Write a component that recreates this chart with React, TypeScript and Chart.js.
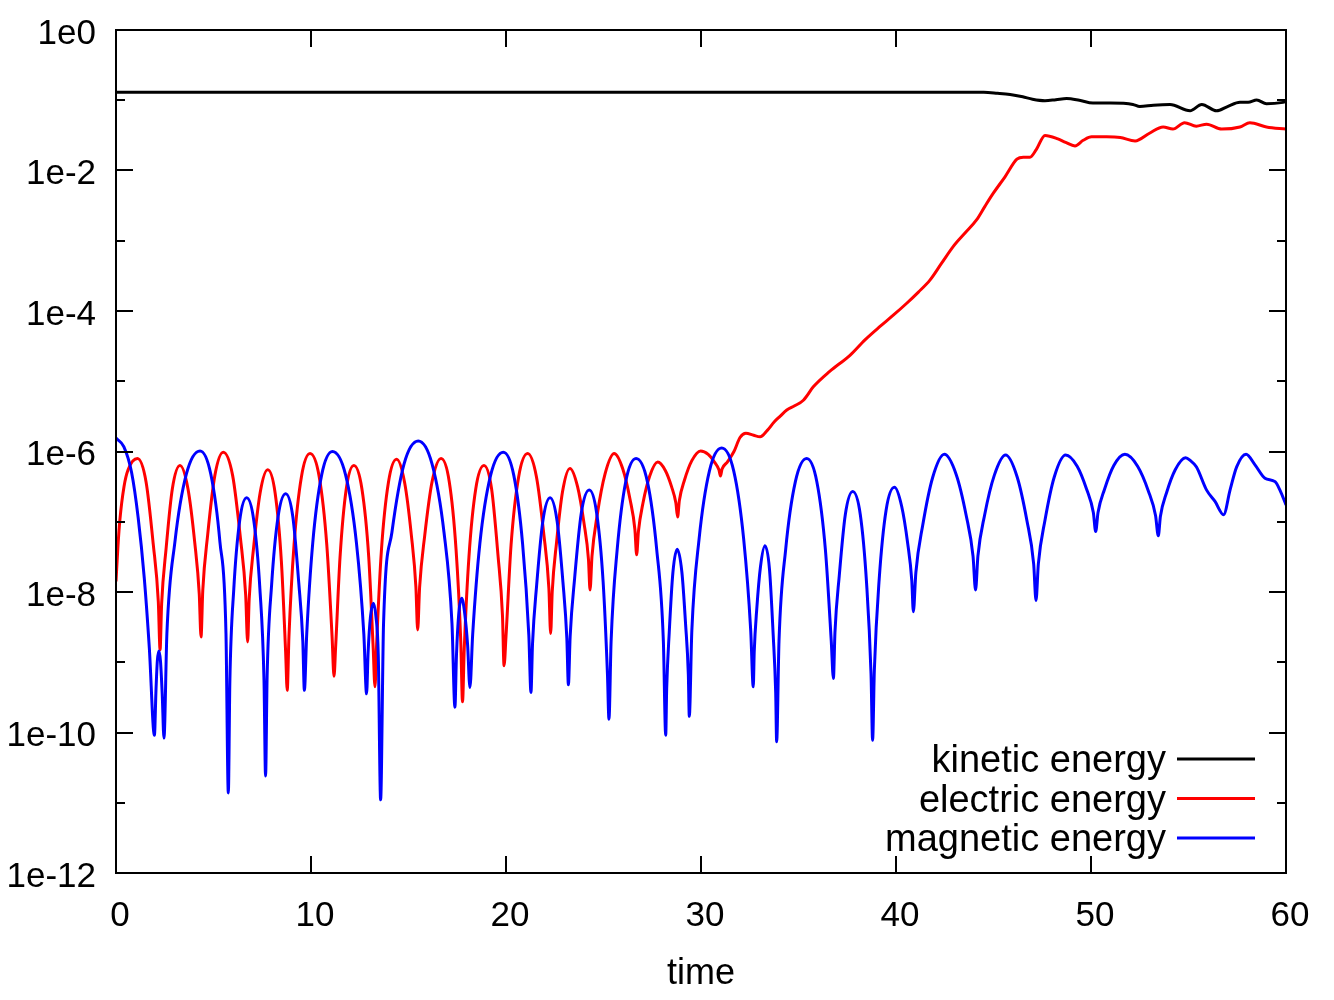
import { useEffect, useRef } from 'react';
import { Chart, registerables } from 'chart.js';

Chart.register(...registerables);

const FONT = "'Liberation Sans', Arial, Helvetica, sans-serif";

const xTicks = [0, 10, 20, 30, 40, 50, 60];
const yTickValues = [1e-12, 1e-10, 1e-8, 1e-6, 1e-4, 1e-2, 1];
const yTickLabels = ['1e-12', '1e-10', '1e-8', '1e-6', '1e-4', '1e-2', '1e0'];
const yMinorValues = [1e-11, 1e-9, 1e-7, 1e-5, 1e-3, 1e-1];
const xTitle = 'time';
const seriesNames = ['kinetic energy', 'electric energy', 'magnetic energy'];
const seriesColors = ['#000000', '#ff0000', '#0000ff'];

const kinetic: [number, number][] = [
  [0, 0.13], [44.5, 0.13], [45.2, 0.126], [45.85, 0.121], [46.5, 0.112], [47.0, 0.1035],
  [47.64, 0.0986], [48.2, 0.102], [48.75, 0.106], [49.4, 0.1], [50.1, 0.0912], [51.0, 0.0912],
  [52.15, 0.0871], [52.5, 0.0813], [53.2, 0.0851], [54.05, 0.0871], [55.08, 0.0708], [55.68, 0.0871],
  [56.44, 0.0708], [57.0, 0.0813], [57.64, 0.0933], [58.06, 0.0933], [58.5, 0.101], [59.0, 0.0891],
  [59.85, 0.0933], [60, 0.0955],
];

const electric: [number, number][] = [
  [0, 1.41e-8], [0.1, 4.47e-8], [0.2, 1.07e-7], [0.41, 3.16e-7], [0.62, 5.5e-7], [1.1, 7.94e-7],
  [1.54, 3.72e-7], [1.91, 4.79e-8], [2.17, 7.24e-9], [2.26, 1.51e-9], [2.34, 6.76e-9], [2.57, 4.17e-8],
  [2.89, 2.95e-7], [3.28, 6.31e-7], [3.69, 2.95e-7], [4.04, 5.01e-8], [4.27, 9.33e-9], [4.36, 2.29e-9],
  [4.45, 1.05e-8], [4.7, 6.46e-8], [5.07, 4.57e-7], [5.5, 9.77e-7], [5.98, 4.57e-7], [6.38, 5.89e-8],
  [6.65, 9.12e-9], [6.75, 1.95e-9], [6.83, 7.94e-9], [7.06, 4.37e-8], [7.39, 2.57e-7], [7.78, 5.5e-7],
  [8.16, 2.57e-7], [8.48, 2.75e-8], [8.7, 1.38e-9], [8.78, 3.98e-10], [8.87, 2.34e-9], [9.13, 4.68e-8],
  [9.51, 4.37e-7], [9.95, 9.33e-7], [10.42, 4.37e-7], [10.81, 4.68e-8], [11.08, 2.34e-9], [11.18, 6.31e-10],
  [11.26, 1.58e-9], [11.49, 3.16e-8], [11.81, 2.95e-7], [12.2, 6.31e-7], [12.61, 2.95e-7], [12.96, 3.16e-8],
  [13.19, 1.58e-9], [13.28, 4.47e-10], [13.37, 1.95e-9], [13.61, 3.89e-8], [13.97, 3.63e-7], [14.39, 7.76e-7],
  [14.8, 3.63e-7], [15.15, 6.31e-8], [15.38, 1.17e-8], [15.47, 2.88e-9], [15.57, 1.17e-8], [15.83, 6.31e-8],
  [16.21, 3.72e-7], [16.67, 7.94e-7], [17.09, 3.72e-7], [17.44, 3.98e-8], [17.68, 2.0e-9], [17.77, 2.75e-10],
  [17.86, 1.58e-9], [18.1, 3.16e-8], [18.45, 2.95e-7], [18.87, 6.31e-7], [19.26, 2.95e-7], [19.59, 3.31e-8],
  [19.82, 4.57e-9], [19.9, 8.91e-10], [20.0, 2.34e-9], [20.26, 4.68e-8], [20.65, 4.37e-7], [21.11, 9.33e-7],
  [21.56, 4.37e-7], [21.94, 6.61e-8], [22.2, 1.12e-8], [22.29, 2.57e-9], [22.37, 1.0e-8], [22.59, 5.01e-8],
  [22.9, 2.69e-7], [23.28, 5.75e-7], [23.67, 3.16e-7], [24.0, 9.55e-8], [24.23, 2.88e-8], [24.31, 1.07e-8],
  [24.41, 3.24e-8], [24.68, 1.26e-7], [25.08, 4.79e-7], [25.55, 9.33e-7], [25.99, 5.62e-7], [26.36, 2.09e-7],
  [26.61, 7.76e-8], [26.7, 3.39e-8], [26.79, 7.24e-8], [27.02, 1.82e-7], [27.37, 4.47e-7], [27.78, 7.08e-7],
  [28.17, 5.37e-7], [28.49, 3.16e-7], [28.71, 1.86e-7], [28.8, 1.17e-7], [28.89, 2.0e-7], [29.15, 3.89e-7],
  [29.53, 7.41e-7], [29.98, 1.02e-6], [30.37, 9.12e-7], [30.69, 7.08e-7], [30.92, 5.5e-7], [31.0, 4.47e-7],
  [31.08, 5.62e-7], [31.35, 7.08e-7], [31.69, 1.0e-6], [32.0, 1.58e-6], [32.3, 1.82e-6], [32.7, 1.7e-6],
  [33.03, 1.62e-6], [33.4, 2.0e-6], [33.75, 2.63e-6], [34.05, 3.16e-6], [34.4, 3.89e-6], [34.8, 4.47e-6],
  [35.25, 5.37e-6], [35.76, 8.32e-6], [36.6, 1.38e-5], [37.64, 2.34e-5], [38.41, 3.89e-5], [39.18, 6.03e-5],
  [39.86, 8.71e-5], [40.55, 1.29e-4], [41.15, 1.86e-4], [41.74, 2.75e-4], [42.34, 4.79e-4], [42.94, 8.32e-4],
  [43.54, 1.29e-3], [44.14, 2.0e-3], [44.56, 3.09e-3], [45.0, 4.79e-3], [45.59, 8.13e-3], [46.2, 1.45e-2],
  [46.53, 1.55e-2], [46.87, 1.55e-2], [47.2, 2.0e-2], [47.64, 3.16e-2], [48.3, 2.82e-2], [48.7, 2.51e-2],
  [49.18, 2.24e-2], [49.6, 2.69e-2], [50.03, 3.02e-2], [50.8, 3.02e-2], [51.5, 2.95e-2], [52.26, 2.63e-2],
  [53.0, 3.39e-2], [53.7, 4.17e-2], [54.2, 3.89e-2], [54.8, 4.79e-2], [55.4, 4.27e-2], [55.93, 4.57e-2],
  [56.7, 3.89e-2], [57.64, 4.17e-2], [58.15, 4.79e-2], [59.0, 4.17e-2], [60, 3.89e-2],
];

const magnetic: [number, number][] = [
  [0, 1.55e-6], [0.4, 1.17e-6], [0.8, 5.01e-7], [1.14, 1.12e-7], [1.45, 1.58e-8], [1.71, 1.58e-9],
  [1.97, 9.12e-11], [2.05, 3.98e-10], [2.12, 1.05e-9], [2.2, 1.45e-9], [2.28, 1.05e-9], [2.37, 3.55e-10],
  [2.46, 8.32e-11], [2.61, 2.57e-9], [3.02, 5.13e-8], [3.61, 4.79e-7], [4.31, 1.02e-6], [4.86, 4.79e-7],
  [5.33, 5.13e-8], [5.64, 2.57e-9], [5.76, 1.38e-11], [5.84, 5.5e-10], [6.04, 1.1e-8], [6.34, 1.02e-7],
  [6.7, 2.19e-7], [7.07, 1.02e-7], [7.38, 1.1e-8], [7.59, 5.5e-10], [7.67, 2.4e-11], [7.75, 6.31e-10],
  [7.98, 1.26e-8], [8.31, 1.17e-7], [8.7, 2.51e-7], [9.07, 1.17e-7], [9.37, 1.38e-8], [9.58, 2.0e-9],
  [9.66, 3.98e-10], [9.78, 2.51e-9], [10.09, 5.01e-8], [10.55, 4.68e-7], [11.1, 1.0e-6], [11.77, 4.68e-7],
  [12.33, 5.01e-8], [12.71, 2.51e-9], [12.85, 3.55e-10], [12.93, 1.41e-9], [13.05, 4.47e-9], [13.2, 6.92e-9],
  [13.33, 4.47e-9], [13.45, 1.26e-9], [13.57, 1.1e-11], [13.72, 3.55e-9], [14.15, 7.08e-8], [14.77, 6.61e-7],
  [15.5, 1.41e-6], [16.21, 6.61e-7], [16.82, 7.08e-8], [17.23, 3.55e-9], [17.38, 2.29e-10], [17.46, 1.26e-9],
  [17.58, 5.01e-9], [17.73, 8.13e-9], [17.88, 5.01e-9], [18.03, 1.78e-9], [18.15, 4.37e-10], [18.29, 2.45e-9],
  [18.66, 4.9e-8], [19.21, 4.57e-7], [19.86, 9.77e-7], [20.4, 4.57e-7], [20.85, 4.9e-8], [21.17, 2.45e-9],
  [21.28, 3.72e-10], [21.36, 1.82e-9], [21.57, 1.23e-8], [21.89, 1.02e-7], [22.26, 2.19e-7], [22.62, 1.02e-7],
  [22.92, 1.38e-8], [23.12, 2.19e-9], [23.2, 4.79e-10], [23.29, 2.34e-9], [23.52, 1.58e-8], [23.86, 1.32e-7],
  [24.27, 2.82e-7], [24.65, 1.32e-7], [24.98, 1.41e-8], [25.2, 7.08e-10], [25.28, 1.55e-10], [25.39, 2.0e-9],
  [25.7, 3.98e-8], [26.14, 3.72e-7], [26.67, 7.94e-7], [27.25, 3.72e-7], [27.73, 3.98e-8], [28.07, 2.0e-9],
  [28.19, 9.12e-11], [28.24, 4.17e-10], [28.37, 2.63e-9], [28.56, 1.91e-8], [28.78, 4.07e-8], [29.02, 1.91e-8],
  [29.21, 3.47e-9], [29.35, 6.76e-10], [29.4, 1.7e-10], [29.53, 2.82e-9], [29.9, 5.62e-8], [30.43, 5.25e-7],
  [31.06, 1.12e-6], [31.68, 5.25e-7], [32.19, 5.62e-8], [32.55, 2.82e-9], [32.68, 4.47e-10], [32.73, 1.41e-9],
  [32.86, 5.75e-9], [33.05, 2.29e-8], [33.28, 4.57e-8], [33.51, 2.14e-8], [33.7, 2.51e-9], [33.83, 3.72e-10],
  [33.88, 7.41e-11], [34.0, 2.0e-9], [34.34, 3.98e-8], [34.84, 3.72e-7], [35.42, 7.94e-7], [35.94, 3.72e-7],
  [36.38, 3.98e-8], [36.68, 2.0e-9], [36.79, 5.89e-10], [36.87, 2.69e-9], [37.09, 1.7e-8], [37.4, 1.26e-7],
  [37.78, 2.69e-7], [38.17, 1.26e-7], [38.49, 1.35e-8], [38.72, 6.76e-10], [38.8, 7.76e-11], [38.89, 7.76e-10],
  [39.14, 1.55e-8], [39.49, 1.45e-7], [39.92, 3.09e-7], [40.29, 1.66e-7], [40.6, 4.9e-8], [40.81, 1.45e-8],
  [40.89, 5.25e-9], [41.02, 1.91e-8], [41.37, 8.91e-8], [41.88, 4.27e-7], [42.48, 9.12e-7], [43.09, 4.68e-7],
  [43.6, 1.23e-7], [43.95, 3.24e-8], [44.08, 1.07e-8], [44.2, 3.24e-8], [44.54, 1.23e-7], [45.04, 4.57e-7],
  [45.62, 8.91e-7], [46.21, 4.37e-7], [46.71, 1.05e-7], [47.06, 2.51e-8], [47.18, 7.59e-9], [47.3, 2.51e-8],
  [47.64, 1.05e-7], [48.12, 4.37e-7], [48.7, 8.91e-7], [49.29, 6.17e-7], [49.78, 2.88e-7], [50.12, 1.35e-7],
  [50.24, 7.24e-8], [50.36, 1.35e-7], [50.69, 2.88e-7], [51.17, 6.31e-7], [51.74, 9.12e-7], [52.39, 6.17e-7],
  [52.94, 2.75e-7], [53.31, 1.23e-7], [53.45, 6.31e-8], [53.56, 1.2e-7], [53.87, 2.57e-7], [54.32, 5.5e-7],
  [54.85, 8.13e-7], [55.1, 7.41e-7], [55.41, 6.03e-7], [55.93, 2.82e-7], [56.36, 1.95e-7], [56.8, 1.26e-7],
  [57.13, 2.82e-7], [57.47, 6.03e-7], [57.95, 9.12e-7], [58.41, 6.46e-7], [58.92, 4.17e-7], [59.44, 3.72e-7],
  [59.69, 2.82e-7], [60, 1.74e-7],
];

const seriesData = [kinetic, electric, magnetic];

const framePlugin = {
  id: 'gnuFrame',
  afterDatasetsDraw(chart: any) {
    const { ctx, chartArea, scales } = chart;
    const { left, right, top, bottom } = chartArea;
    const xs = scales.x;
    const ys = scales.y;
    ctx.save();
    ctx.strokeStyle = '#000';
    ctx.lineWidth = 2;
    ctx.beginPath();
    xTicks.forEach((v) => {
      const px = Math.round(xs.getPixelForValue(v));
      ctx.moveTo(px, bottom);
      ctx.lineTo(px, bottom - 17);
      ctx.moveTo(px, top);
      ctx.lineTo(px, top + 17);
    });
    yTickValues.forEach((v) => {
      const py = Math.round(ys.getPixelForValue(v));
      ctx.moveTo(left, py);
      ctx.lineTo(left + 17, py);
      ctx.moveTo(right, py);
      ctx.lineTo(right - 17, py);
    });
    yMinorValues.forEach((v) => {
      const py = Math.round(ys.getPixelForValue(v));
      ctx.moveTo(left, py);
      ctx.lineTo(left + 9, py);
      ctx.moveTo(right, py);
      ctx.lineTo(right - 9, py);
    });
    ctx.stroke();
    ctx.strokeRect(left, top, right - left, bottom - top);

    // legend (gnuplot style, bottom right inside the plot)
    const datasets = chart.data.datasets;
    ctx.font = `38px ${FONT}`;
    ctx.textAlign = 'right';
    ctx.textBaseline = 'middle';
    const n = datasets.length;
    datasets.forEach((ds: any, i: number) => {
      const y = bottom - 35 - (n - 1 - i) * 39.5;
      ctx.fillStyle = '#000';
      ctx.fillText(ds.label, right - 120, y + 3);
      ctx.strokeStyle = ds.borderColor;
      ctx.lineWidth = 3;
      ctx.beginPath();
      ctx.moveTo(right - 109, y);
      ctx.lineTo(right - 31, y);
      ctx.stroke();
    });
    ctx.restore();
  },
};

export default function App() {
  const ref = useRef<HTMLCanvasElement | null>(null);

  useEffect(() => {
    const canvas = ref.current;
    if (!canvas) return;
    const datasets = seriesData.map((pts, i) => ({
      label: seriesNames[i],
      data: pts.map(([x, y]) => ({ x, y })),
      borderColor: seriesColors[i],
      backgroundColor: seriesColors[i],
      borderWidth: 3,
      pointRadius: 0,
      fill: false,
      cubicInterpolationMode: 'monotone' as const,
      borderJoinStyle: 'round' as const,
      order: seriesData.length - i,
    }));

    const chart = new Chart(canvas, {
      type: 'line',
      data: { datasets },
      options: {
        animation: false,
        responsive: false,
        maintainAspectRatio: false,
        events: [],
        layout: { padding: { top: 30, right: 48, bottom: 0, left: 0 } },
        plugins: {
          legend: { display: false },
          tooltip: { enabled: false },
        },
        scales: {
          x: {
            type: 'linear',
            min: 0,
            max: 60,
            afterFit: (s: any) => {
              s.height = 127;
              s.paddingLeft = 0;
              s.paddingRight = 0;
            },
            afterBuildTicks: (s: any) => {
              s.ticks = xTicks.map((v) => ({ value: v }));
            },
            grid: { display: false, drawTicks: false },
            border: { display: false },
            ticks: {
              color: '#000',
              font: { family: FONT, size: 35 },
              padding: 22,
              labelOffset: 4,
              maxRotation: 0,
              callback: (v: any) => String(v),
            },
            title: {
              display: true,
              text: xTitle,
              color: '#000',
              font: { family: FONT, size: 36 },
              padding: { top: 0, bottom: 4 },
            },
          },
          y: {
            type: 'logarithmic',
            min: 1e-12,
            max: 1,
            afterFit: (s: any) => {
              s.width = 116;
              s.paddingTop = 0;
              s.paddingBottom = 0;
            },
            afterBuildTicks: (s: any) => {
              s.ticks = yTickValues.map((v) => ({ value: v }));
            },
            grid: { display: false, drawTicks: false },
            border: { display: false },
            ticks: {
              color: '#000',
              font: { family: FONT, size: 35 },
              padding: 20,
              labelOffset: 4,
              callback: (_v: any, idx: number) => yTickLabels[idx],
            },
          },
        },
      },
      plugins: [framePlugin],
    });
    return () => chart.destroy();
  }, []);

  return (
    <div style={{ position: 'absolute', left: 0, top: 0, width: 1334, height: 1000, background: '#fff' }}>
      <canvas ref={ref} width={1334} height={1000} style={{ display: 'block' }} />
    </div>
  );
}
